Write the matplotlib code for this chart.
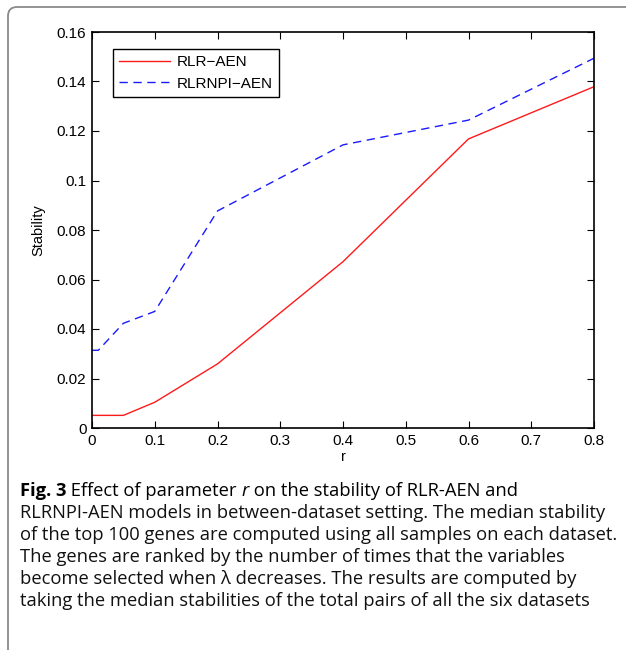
import matplotlib
matplotlib.use('Agg')
from matplotlib import pyplot as plt
from matplotlib.patches import FancyBboxPatch
from matplotlib.transforms import IdentityTransform

# parameter r and median stability of the top 100 genes
r_values = [0, 0.01, 0.05, 0.1, 0.2, 0.4, 0.6, 0.8]
rlr_aen = [0.0051, 0.0051, 0.0051, 0.0104, 0.0259, 0.0672, 0.1168, 0.1379]
rlrnpi_aen = [0.0314, 0.0314, 0.0423, 0.0471, 0.0877, 0.1144, 0.1244, 0.1494]
series_names = ['RLR\u2212AEN', 'RLRNPI\u2212AEN']

x_ticks = [0, 0.1, 0.2, 0.3, 0.4, 0.5, 0.6, 0.7, 0.8]
x_tick_labels = ['0', '0.1', '0.2', '0.3', '0.4', '0.5', '0.6', '0.7', '0.8']
y_ticks = [0, 0.02, 0.04, 0.06, 0.08, 0.1, 0.12, 0.14, 0.16]
y_tick_labels = ['0', '0.02', '0.04', '0.06', '0.08', '0.1', '0.12', '0.14', '0.16']

caption_lines = [
    'RLRNPI-AEN models in between-dataset setting. The median stability',
    'of the top 100 genes are computed using all samples on each dataset.',
    'The genes are ranked by the number of times that the variables',
    'become selected when \u03bb decreases. The results are computed by',
    'taking the median stabilities of the total pairs of all the six datasets',
]

W, H = 626, 650
fig = plt.figure(figsize=(W / 100, H / 100), dpi=100)
fig.patch.set_facecolor('white')

# rounded frame around the whole figure block
frame = FancyBboxPatch((8, -60), 700, H - 7 + 60,
                       boxstyle='round,pad=0,rounding_size=9',
                       transform=IdentityTransform(), facecolor='none',
                       edgecolor='#8a8a8a', linewidth=1.3)
fig.patches.append(frame)

chart_font = 'Liberation Sans'
ax = fig.add_axes([92 / W, 1 - 428 / H, (594 - 92) / W, (428 - 32) / H])
ax.plot(r_values, rlr_aen, color='#ff1a1a', lw=1.0, label=series_names[0])
ax.plot(r_values, rlrnpi_aen, color='#1a1aff', lw=1.0, dashes=(6, 4),
        label=series_names[1])

ax.set_xlim(0, 0.8)
ax.set_ylim(0, 0.16)
ax.set_xticks(x_ticks)
ax.set_xticklabels(x_tick_labels, fontname=chart_font, fontsize=11)
ax.set_yticks(y_ticks)
ax.set_yticklabels(y_tick_labels, fontname=chart_font, fontsize=11)
ax.tick_params(direction='in', length=5, width=0.8, top=True, right=True,
               pad=4, colors='black')
for s in ax.spines.values():
    s.set_linewidth(1.2)
ax.set_xlabel('r', fontname=chart_font, fontsize=10.5, labelpad=2)
ax.set_ylabel('Stability', fontname=chart_font, fontsize=10.5, labelpad=8)

leg = ax.legend(loc='upper left',
                bbox_to_anchor=((113 - 92) / 502, 1 - (49 - 32) / 396),
                borderaxespad=0, fancybox=False, framealpha=1,
                edgecolor='black', handlelength=3.3, handletextpad=0.5,
                borderpad=0.4, labelspacing=0.5,
                prop={'family': chart_font, 'size': 11})
leg.get_frame().set_linewidth(1.0)

# caption below the chart
cap_font = 'Open Sans'
cap_size = 13.2
x0 = 20 / W
y0 = 1 - 491 / H
line_h = 21.9 / H
renderer = fig.canvas.get_renderer()

t = fig.text(x0, y0, 'Fig. 3', fontname=cap_font, fontsize=cap_size,
             fontweight='bold', va='center')
x = t.get_window_extent(renderer).x1 / W
for piece, style in [(' Effect of parameter ', 'normal'), ('r', 'italic'),
                     (' on the stability of RLR-AEN and', 'normal')]:
    t = fig.text(x, y0, piece, fontname=cap_font, fontsize=cap_size,
                 style=style, va='center')
    x = t.get_window_extent(renderer).x1 / W

for i, line in enumerate(caption_lines):
    fig.text(x0, y0 - (i + 1) * line_h, line, fontname=cap_font,
             fontsize=cap_size, va='center', color='#111111')

fig.savefig('out.png', dpi=100)
